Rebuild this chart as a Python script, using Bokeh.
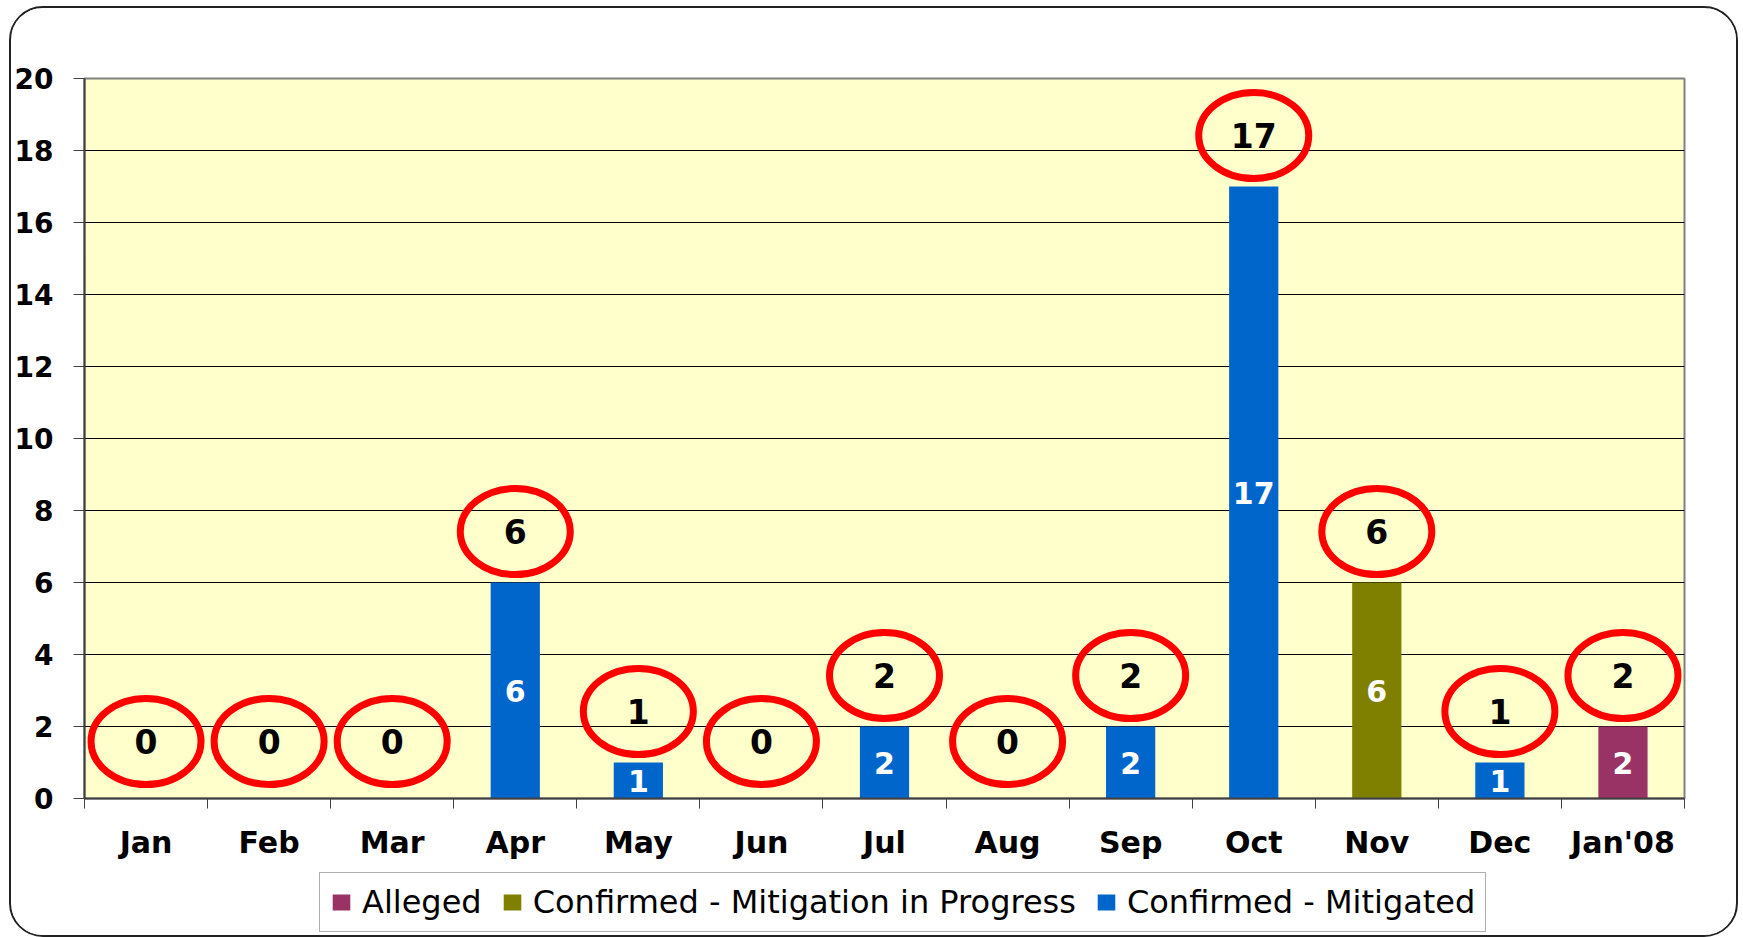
from bokeh.plotting import figure
from bokeh.layouts import column
from bokeh.models import ColumnDataSource, FixedTicker, Legend, LegendItem
from bokeh.core.properties import value
from bokeh.embed import file_html
from bokeh.resources import INLINE

# ---- data ----
months = ["Jan", "Feb", "Mar", "Apr", "May", "Jun", "Jul", "Aug", "Sep", "Oct", "Nov", "Dec", "Jan'08"]
alleged = [0, 0, 0, 0, 0, 0, 0, 0, 0, 0, 0, 0, 2]
in_progress = [0, 0, 0, 0, 0, 0, 0, 0, 0, 0, 6, 0, 0]
mitigated = [0, 0, 0, 6, 1, 0, 2, 0, 2, 17, 0, 1, 0]
series_names = ["Alleged", "Confirmed - Mitigation in Progress", "Confirmed - Mitigated"]
series_colors = ["#993366", "#808000", "#0066CC"]
y_ticks = [0, 2, 4, 6, 8, 10, 12, 14, 16, 18, 20]

FONT = "DejaVu Sans"
FRAME_H = 720
Y_MAX = 20
px_per_unit = FRAME_H / Y_MAX

totals = [a + b + c for a, b, c in zip(alleged, in_progress, mitigated)]
xs = [i + 0.5 for i in range(len(months))]

src = ColumnDataSource(dict(x=xs, months=months, alleged=alleged,
                            in_progress=in_progress, mitigated=mitigated))

p = figure(frame_width=1600, frame_height=FRAME_H,
           x_range=(0, len(months)), y_range=(0, Y_MAX),
           output_backend="svg", toolbar_location=None,
           min_border_left=72, min_border_right=52,
           min_border_top=70, min_border_bottom=70,
           background_fill_color="white", border_fill_color="white")

p.background_fill_color = "#FFFFCC"
p.outline_line_color = "#808080"
p.outline_line_width = 2

# bars
renderers = p.vbar_stack(["mitigated", "in_progress", "alleged"], x="x", width=0.4,
                         color=[series_colors[2], series_colors[1], series_colors[0]],
                         line_color=None, source=src)

# white value labels inside bars
inner_x, inner_y, inner_t = [], [], []
for x, a, b, c in zip(xs, alleged, in_progress, mitigated):
    base = 0
    for v in (c, b, a):
        if v > 0:
            inner_x.append(x)
            inner_y.append(base + v / 2)
            inner_t.append(str(v))
        base += v
p.text(x=inner_x, y=inner_y, text=inner_t, text_color="white",
       text_font=value(FONT), text_font_style="bold", text_font_size="30px",
       text_align="center", text_baseline="middle")

# red ellipses with totals
ell_y = [t + (51 if t > 0 else 57) / px_per_unit for t in totals]
p.ellipse(x=xs, y=ell_y, width=110, height=86, width_units="screen", height_units="screen",
          fill_color=None, line_color="#FF0000", line_width=7)
p.text(x=xs, y=ell_y, text=[str(t) for t in totals], text_color="black",
       text_font=value(FONT), text_font_style="bold", text_font_size="33px",
       text_align="center", text_baseline="middle")

# axes
p.yaxis.ticker = FixedTicker(ticks=y_ticks)
p.yaxis.major_label_text_font = FONT
p.yaxis.major_label_text_font_style = "bold"
p.yaxis.major_label_text_font_size = "28px"
p.yaxis.major_label_text_color = "black"
p.yaxis.major_label_standoff = 20
p.yaxis.major_tick_out = 11
p.yaxis.major_tick_in = 0
p.yaxis.minor_tick_line_color = None
p.yaxis.axis_line_color = "#404040"
p.yaxis.axis_line_width = 2
p.yaxis.major_tick_line_color = "#404040"

p.xaxis.ticker = FixedTicker(ticks=xs, minor_ticks=list(range(len(months) + 1)))
p.xaxis.major_label_overrides = {x: m for x, m in zip(xs, months)}
p.xaxis.major_label_text_font = FONT
p.xaxis.major_label_text_font_style = "bold"
p.xaxis.major_label_text_font_size = "30px"
p.xaxis.major_label_text_color = "black"
p.xaxis.major_tick_line_color = None
p.xaxis.major_tick_out = 0
p.xaxis.major_tick_in = 0
p.xaxis.minor_tick_out = 10
p.xaxis.minor_tick_in = 0
p.xaxis.minor_tick_line_color = "#404040"
p.xaxis.minor_tick_line_width = 1
p.xaxis.major_label_standoff = 16
p.xaxis.axis_line_color = "#404040"
p.xaxis.axis_line_width = 2

p.xgrid.grid_line_color = None
p.ygrid.ticker = FixedTicker(ticks=y_ticks[1:-1])
p.ygrid.grid_line_color = "black"
p.ygrid.grid_line_width = 1

# legend strip (separate figure so nothing is clipped)
lg = figure(frame_width=1724, frame_height=67, x_range=(0, 1), y_range=(0, 1),
            output_backend="svg", toolbar_location=None,
            x_axis_location=None, y_axis_location=None,
            min_border_left=0, min_border_right=0, min_border_top=0, min_border_bottom=0,
            background_fill_color="white", border_fill_color="white")
lg.outline_line_color = None
lg.grid.visible = False
# swatch renderers: zero-height bars, only used for the legend keys
swatches = [lg.vbar(x=[0.5], top=[0], bottom=[0], width=0.001, fill_color=c, line_color=None)
            for c in series_colors]
items = [LegendItem(label=name, renderers=[r]) for name, r in zip(series_names, swatches)]
legend = Legend(items=items, orientation="horizontal", location=(308, 3),
                label_text_font=FONT, label_text_font_size="32px", label_text_color="black",
                glyph_width=22, glyph_height=20, label_standoff=10, spacing=19,
                padding=10, margin=0, border_line_color="#606060", border_line_width=1,
                background_fill_color="white")
lg.add_layout(legend, "center")

layout = column(p, lg, spacing=0)
layout.styles = {"border": "2px solid #222222", "border-radius": "34px",
                 "margin-left": "9px", "margin-top": "6px", "overflow": "hidden",
                 "background-color": "white"}

open("out.html", "w").write(file_html(layout, INLINE))
